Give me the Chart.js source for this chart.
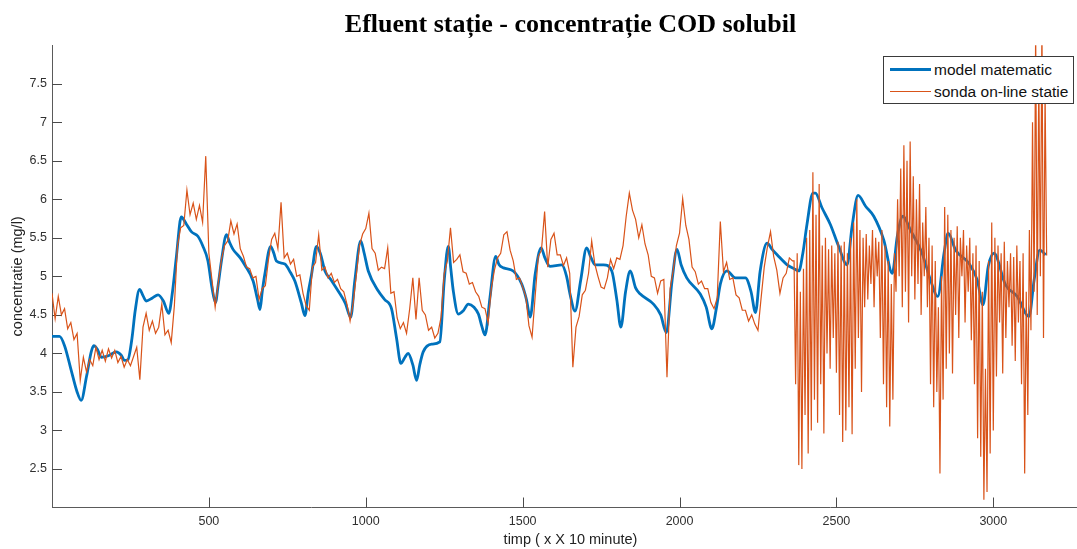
<!DOCTYPE html>
<html>
<head>
<meta charset="utf-8">
<title>Efluent stație - concentrație COD solubil</title>
<script src="https://cdn.jsdelivr.net/npm/chart.js@4.4.0/dist/chart.umd.min.js"></script>
<style>
  html, body { margin: 0; padding: 0; background: #fff; overflow: hidden; }
  #wrap { position: relative; width: 1077px; height: 549px; overflow: hidden; }
  #legend {
    position: absolute; left: 883px; top: 56px; width: 189px; height: 46px;
    border: 1px solid #3a3a3a; background: #fff;
    font-family: "Liberation Sans", Arial, sans-serif; font-size: 15.5px; color: #111;
  }
  .row { position: absolute; left: 0; width: 100%; height: 20px; line-height: 20px; }
  .swatch { position: absolute; left: 6px; width: 41px; }
  .lbl { position: absolute; left: 50px; white-space: nowrap; }
</style>
</head>
<body>
<div id="wrap">
  <canvas id="chart" width="1100" height="549"></canvas>
  <div id="legend">
    <div class="row" style="top:3px"><span class="swatch" style="top:8px;border-top:3px solid #0072BD"></span><span class="lbl">model matematic</span></div>
    <div class="row" style="top:25px"><span class="swatch" style="top:9px;border-top:1px solid #D95319"></span><span class="lbl">sonda on-line statie</span></div>
  </div>
</div>
<script>
const yTicks = [2.5, 3, 3.5, 4, 4.5, 5, 5.5, 6, 6.5, 7, 7.5];
const xTicks = [500, 1000, 1500, 2000, 2500, 3000];

// model matematic (blue)
const modelX = [0, 24, 40, 60, 80, 93, 110, 125, 133, 145, 157, 180, 205, 220, 231, 242, 255, 265, 279, 290,
  300, 320, 338, 355, 372, 384, 396, 412, 428, 444, 465, 480, 497, 510, 521, 530, 540, 556, 565, 577,
  600, 614, 641, 655, 663, 670, 678, 697, 707, 715, 742, 760, 774, 795, 806, 817, 827, 843, 855, 870,
  890, 912, 935, 952, 965, 984, 995, 1008, 1040, 1060, 1082, 1098, 1112, 1125, 1135, 1150, 1162, 1172, 1183, 1210,
  1236, 1250, 1263, 1271, 1279, 1295, 1310, 1327, 1345, 1359, 1370, 1380, 1396, 1414, 1425, 1439, 1470, 1497, 1512, 1524,
  1540, 1559, 1570, 1587, 1625, 1640, 1651, 1667, 1685, 1704, 1717, 1731, 1758, 1784, 1800, 1813, 1828, 1843, 1860, 1875,
  1917, 1940, 1958, 1976, 1992, 2005, 2023, 2066, 2085, 2103, 2118, 2130, 2151, 2178, 2210, 2228, 2242, 2257, 2279, 2295,
  2311, 2343, 2365, 2380, 2393, 2406, 2425, 2433, 2454, 2481, 2507, 2534, 2550, 2569, 2593, 2619, 2651, 2678, 2694, 2712,
  2736, 2773, 2800, 2823, 2843, 2856, 2880, 2922, 2949, 2967, 2984, 3002, 3039, 3076, 3114, 3130, 3148, 3167];
const modelY = [4.22, 4.22, 4.1, 3.8, 3.5, 3.39, 3.7, 4.02, 4.10, 4.05, 3.95, 3.97, 4.02, 3.98, 3.91, 3.92, 4.2, 4.55, 4.83, 4.75,
  4.68, 4.72, 4.76, 4.68, 4.52, 4.8, 5.24, 5.77, 5.68, 5.58, 5.52, 5.40, 5.20, 4.85, 4.66, 4.9, 5.20, 5.54, 5.45, 5.35,
  5.24, 5.15, 4.94, 4.7, 4.57, 4.8, 5.02, 5.39, 5.30, 5.20, 5.16, 5.05, 4.94, 4.65, 4.49, 4.8, 5.02, 5.39, 5.3, 5.07,
  4.95, 4.81, 4.65, 4.47, 4.94, 5.46, 5.3, 5.07, 4.81, 4.70, 4.58, 4.2, 3.87, 3.95, 4.0, 3.85, 3.65, 3.85, 4.02, 4.12,
  4.15, 4.94, 5.39, 5.1, 4.81, 4.51, 4.55, 4.64, 4.6, 4.51, 4.35, 4.24, 4.73, 5.26, 5.15, 5.11, 5.07, 4.90, 4.7, 4.47,
  5.03, 5.37, 5.25, 5.13, 5.15, 5.0, 4.77, 4.55, 4.95, 5.37, 5.25, 5.15, 5.15, 5.07, 4.7, 4.34, 4.8, 5.07, 4.85, 4.77,
  4.64, 4.5, 4.27, 4.94, 5.35, 5.15, 4.98, 4.77, 4.6, 4.32, 4.6, 4.90, 5.07, 4.98, 4.98, 4.8, 4.53, 5.07, 5.43, 5.35,
  5.28, 5.15, 5.1, 5.07, 5.3, 5.67, 6.08, 6.08, 5.89, 5.67, 5.39, 5.15, 5.65, 6.05, 5.91, 5.78, 5.47, 5.04, 5.52, 5.78,
  5.60, 5.30, 4.95, 4.74, 5.30, 5.56, 5.34, 5.17, 4.95, 4.63, 5.13, 5.30, 4.89, 4.74, 4.48, 4.95, 5.34, 5.28];

// sonda on-line statie (orange), calm part: one reading every 10 steps from 0
const calmStart = 0;
const calmStep = 10;
const sondaCalm = [
  4.78, 4.45, 4.74, 4.50, 4.58, 4.32, 4.40, 4.18, 4.26, 3.65,
  3.95, 3.76, 3.92, 3.84, 4.08, 3.92, 4.04, 3.90, 4.06, 3.94,
  4.04, 3.88, 3.96, 3.82, 3.92, 3.84, 3.96, 4.08, 3.66, 4.34,
  4.52, 4.30, 4.42, 4.26, 4.34, 4.64, 4.24, 4.30, 4.14, 4.62,
  5.40, 5.63, 5.66, 6.12, 5.80, 5.95, 5.74, 5.92, 5.70, 6.56,
  5.30, 4.95, 4.60, 4.92, 5.22, 5.40, 5.46, 5.72, 5.55, 5.68,
  5.36, 5.26, 5.12, 5.10, 4.98, 5.00, 4.70, 4.84, 4.88, 5.22,
  5.48, 5.56, 5.36, 5.96, 5.24, 5.30, 5.16, 5.22, 5.00, 5.02,
  4.78, 4.62, 4.56, 5.12, 5.18, 5.54, 5.08, 5.12, 4.98, 5.04,
  4.92, 4.96, 4.84, 4.80, 4.64, 4.42, 4.66, 5.02, 5.40, 5.55,
  5.62, 5.82, 5.36, 5.30, 5.08, 5.12, 5.10, 5.37, 4.78, 4.80,
  4.46, 4.32, 4.40, 4.26, 4.58, 4.98, 4.44, 4.98, 4.56, 4.50,
  4.30, 4.34, 4.20, 4.26, 4.47, 5.04, 5.20, 5.63, 5.18, 5.22,
  5.28, 5.06, 5.04, 4.90, 4.92, 4.80, 4.74, 4.60, 4.58, 4.40,
  4.84, 5.08, 5.24, 5.30, 5.54, 5.58, 5.34, 5.20, 4.96, 4.98,
  4.86, 4.74, 4.36, 4.21, 4.75, 5.26, 5.34, 5.84, 5.12, 5.48,
  5.56, 5.28, 5.28, 5.14, 5.24, 5.04, 3.82, 4.34, 4.48, 4.76,
  4.82, 5.04, 5.46, 5.16, 5.00, 4.86, 4.84, 4.98, 5.22, 5.10,
  5.24, 5.22, 5.40, 5.78, 6.08, 5.86, 5.74, 5.50, 5.67, 5.42,
  5.28, 5.00, 4.98, 4.78, 4.94, 4.96, 3.69, 4.84, 5.08, 5.40,
  5.56, 6.01, 5.66, 5.48, 5.12, 5.06, 4.90, 4.94, 4.84, 4.84,
  4.66, 4.58, 4.72, 5.71, 5.06, 5.18, 4.96, 4.98, 4.76, 4.72,
  4.56, 4.56, 4.42, 4.50, 4.38, 4.30, 4.72, 5.12, 5.38, 5.58,
  5.26, 5.08, 4.78, 4.98, 5.04, 5.24, 5.20
];

// sonda on-line statie, oscillating part: one reading every 5 steps from 2365
const wildStart = 2365;
const wildStep = 5;
const sondaWild = [
  5.20, 3.60, 5.30, 2.55, 4.80, 2.50, 5.10, 3.20, 5.50, 2.70,
  5.60, 3.00, 6.35, 3.40, 5.80, 3.10, 6.20, 3.60, 5.40, 2.96,
  5.50, 4.00, 5.35, 3.80, 5.40, 4.20, 5.30, 3.75, 5.45, 3.20,
  5.40, 2.85, 5.45, 3.00, 5.30, 3.30, 5.50, 2.95, 5.70, 3.80,
  6.00, 4.20, 5.60, 3.50, 5.50, 4.60, 5.55, 4.70, 5.40, 4.90,
  5.60, 4.60, 5.50, 5.00, 5.45, 4.20, 5.60, 3.60, 5.40, 3.30,
  5.20, 3.05, 4.90, 3.40, 5.30, 4.80, 6.00, 5.00, 6.40, 4.60,
  6.70, 4.80, 6.50, 4.40, 6.75, 5.00, 6.30, 4.70, 6.00, 4.90,
  6.20, 4.50, 5.70, 5.00, 5.90, 4.60, 5.50, 3.60, 5.40, 3.30,
  5.20, 3.50, 4.60, 2.44, 5.00, 3.40, 5.90, 3.80, 5.80, 4.00,
  5.60, 3.74, 5.50, 4.50, 5.65, 4.20, 5.50, 5.00, 5.60, 4.40,
  5.40, 4.80, 5.50, 4.17, 5.30, 3.60, 5.40, 2.90, 5.20, 2.66,
  4.80, 2.10, 3.80, 2.20, 5.20, 2.70, 5.70, 3.00, 5.50, 3.70,
  5.40, 4.40, 5.30, 3.74, 5.45, 4.20, 5.20, 4.60, 5.30, 4.10,
  5.25, 3.90, 5.40, 4.40, 5.20, 3.60, 5.30, 2.44, 4.80, 3.20,
  5.60, 4.30, 7.00, 4.80, 8.20, 4.50, 7.60, 5.00, 8.30, 4.20,
  7.40, 5.27
];

const modelPts = modelX.map((x, i) => ({ x: x, y: modelY[i] }));
const sondaPts = sondaCalm.map((y, i) => ({ x: calmStart + i * calmStep, y: y }))
  .concat(sondaWild.map((y, i) => ({ x: wildStart + i * wildStep, y: y })));

Chart.defaults.font.family = '"Liberation Sans", Arial, sans-serif';

// MATLAB style ticks pointing into the plot
const inwardTicks = {
  id: 'inwardTicks',
  beforeDatasetsDraw(chart) {
    const { ctx, chartArea: a, scales: { x, y } } = chart;
    ctx.save();
    ctx.strokeStyle = '#4a4a4a';
    ctx.lineWidth = 1;
    ctx.beginPath();
    xTicks.forEach(v => {
      const p = Math.round(x.getPixelForValue(v)) + 0.5;
      ctx.moveTo(p, a.bottom);
      ctx.lineTo(p, a.bottom - 10);
    });
    yTicks.forEach(v => {
      const p = Math.round(y.getPixelForValue(v)) + 0.5;
      ctx.moveTo(a.left, p);
      ctx.lineTo(a.left + 10, p);
    });
    ctx.stroke();
    ctx.restore();
  }
};

new Chart(document.getElementById('chart'), {
  type: 'line',
  data: {
    datasets: [
      {
        label: 'model matematic',
        data: modelPts,
        borderColor: '#0072BD',
        borderWidth: 2.8,
        pointRadius: 0,
        cubicInterpolationMode: 'monotone',
        order: 1
      },
      {
        label: 'sonda on-line statie',
        data: sondaPts,
        borderColor: '#D95319',
        borderWidth: 1.2,
        pointRadius: 0,
        tension: 0,
        order: 0
      }
    ]
  },
  options: {
    responsive: false,
    animation: false,
    devicePixelRatio: 1,
    layout: { padding: { left: 0, right: 11, top: 0, bottom: 0 } },
    plugins: {
      legend: { display: false },
      tooltip: { enabled: false },
      title: {
        display: true,
        fullSize: false,
        text: 'Efluent stație - concentrație COD solubil',
        color: '#000',
        font: { family: '"Liberation Serif", "Times New Roman", serif', size: 26, weight: 'bold' },
        padding: { top: 10, bottom: 4 }
      }
    },
    scales: {
      x: {
        type: 'linear',
        min: 0,
        max: 3305,
        afterBuildTicks: s => { s.ticks = xTicks.map(v => ({ value: v })); },
        afterFit: s => { s.height = 41.5; },
        grid: { display: true, drawOnChartArea: false, drawTicks: false },
        border: { display: true, color: '#5a5a5a', width: 1 },
        ticks: { padding: 7, color: '#303030', font: { size: 12.5 }, maxRotation: 0, autoSkip: false, callback: v => String(v) },
        title: { display: true, text: 'timp ( x X 10 minute)', color: '#222', font: { size: 14.5 }, padding: 0 }
      },
      y: {
        min: 2,
        max: 8,
        afterBuildTicks: s => { s.ticks = yTicks.map(v => ({ value: v })); },
        afterFit: s => { s.width = 52; },
        grid: { display: true, drawOnChartArea: false, drawTicks: false },
        border: { display: true, color: '#5a5a5a', width: 1 },
        ticks: { padding: 5, color: '#303030', font: { size: 12.5 }, callback: v => String(v) },
        title: { display: true, text: 'concentratie (mg/l)', color: '#222', font: { size: 14.5 }, padding: { top: 9, bottom: 0 } }
      }
    }
  },
  plugins: [inwardTicks]
});
</script>
</body>
</html>
